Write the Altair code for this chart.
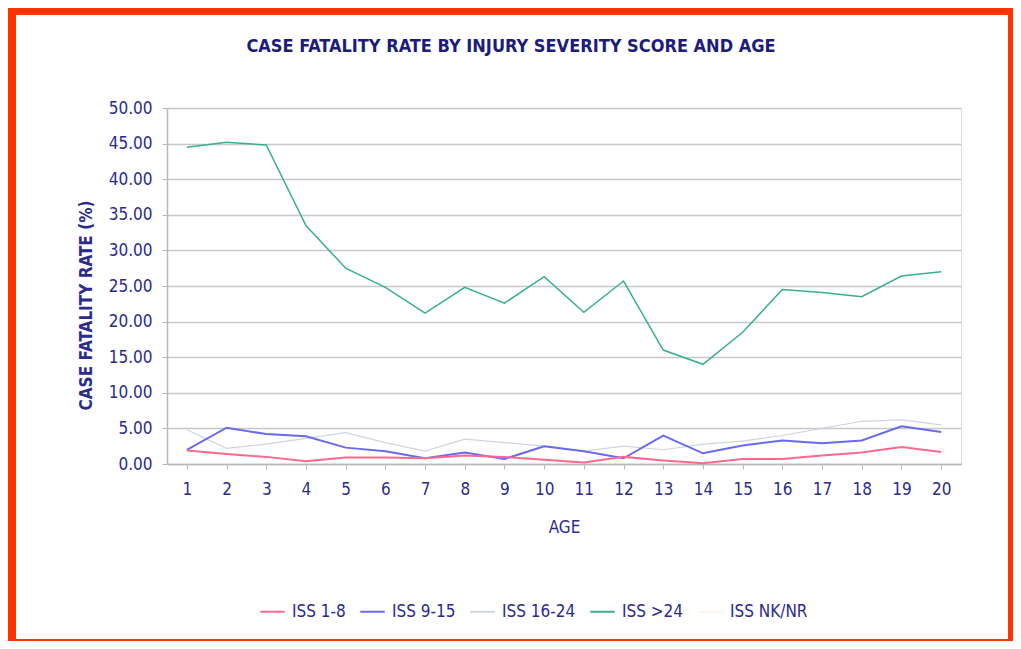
import altair as alt
import pandas as pd

ages = list(range(1, 21))
series_names = ["ISS 1-8", "ISS 9-15", "ISS 16-24", "ISS >24", "ISS NK/NR"]
series_colors = ["#ff6a8a", "#6a6af0", "#cdd6de", "#38b088", "#fff6e6"]
chart_title = "CASE FATALITY RATE BY INJURY SEVERITY SCORE AND AGE"

iss_1_8 = [1.9, 1.4, 1.0, 0.4, 0.9, 0.9, 0.8, 1.2, 1.0, 0.6, 0.2, 1.0, 0.5, 0.1, 0.7, 0.7, 1.2, 1.6, 2.4, 1.7]
iss_9_15 = [2.0, 5.1, 4.2, 3.9, 2.3, 1.8, 0.8, 1.6, 0.7, 2.5, 1.8, 0.8, 4.0, 1.5, 2.6, 3.3, 2.9, 3.3, 5.3, 4.5]
iss_16_24 = [4.8, 2.2, 2.8, 3.6, 4.4, 3.0, 1.8, 3.5, 3.0, 2.5, 1.8, 2.5, 2.0, 2.8, 3.2, 4.0, 5.0, 6.0, 6.2, 5.5]
iss_gt_24 = [44.5, 45.2, 44.8, 33.5, 27.5, 24.8, 21.2, 24.8, 22.6, 26.3, 21.3, 25.7, 16.0, 14.0, 18.5, 24.5, 24.1, 23.5, 26.4, 27.0]

rows = []
for name, vals in [("ISS 1-8", iss_1_8), ("ISS 9-15", iss_9_15),
                   ("ISS 16-24", iss_16_24), ("ISS >24", iss_gt_24)]:
    for a, v in zip(ages, vals):
        rows.append({"age": a, "rate": v, "series": name})
df = pd.DataFrame(rows)

NAVY = "#2a2a90"
FONT = "DejaVu Sans Condensed"

color = alt.Color(
    "series:N",
    scale=alt.Scale(domain=series_names, range=series_colors),
    legend=alt.Legend(
        title=None, orient="none", legendX=92, legendY=490,
        direction="horizontal", columns=5, symbolType="stroke",
        symbolSize=600, symbolStrokeWidth=2, labelFontSize=17,
        labelFont=FONT, labelColor=NAVY, labelOffset=6, columnPadding=10,
    ),
)

x = alt.X(
    "age:O", sort=ages, scale=alt.Scale(paddingOuter=0.5),
    axis=alt.Axis(
        title="AGE", labelAngle=0, labelFontSize=17, labelFont=FONT,
        labelColor=NAVY, labelPadding=12, tickSize=5, tickColor="#b8b8b8",
        domainColor="#b8b8b8", domainWidth=1.5, grid=False,
        titleFontSize=17, titleFont=FONT, titleColor=NAVY, titleFontWeight="normal",
        titleY=63, titleBaseline="middle",
    ),
)
y = alt.Y(
    "rate:Q", scale=alt.Scale(domain=[0, 50]),
    axis=alt.Axis(
        title="CASE FATALITY RATE (%)", values=list(range(0, 51, 5)), format=".2f",
        labelFontSize=17, labelFont=FONT, labelColor=NAVY, labelPadding=10,
        tickSize=5, tickColor="#b8b8b8", domainColor="#b8b8b8", domainWidth=1.5,
        gridColor="#c8c8c8", gridWidth=1.5,
        titleFontSize=17, titleFont=FONT, titleColor=NAVY, titleFontWeight="bold",
        titleAngle=270, titleX=-81, titleY=197, titleAlign="center", titleBaseline="middle",
    ),
)

base = alt.Chart(df)

def line(name, width):
    return base.transform_filter(alt.datum.series == name).mark_line(
        strokeWidth=width
    ).encode(x=x, y=y, color=color)

def frame(x1, x2, y1, y2):
    return alt.Chart(alt.Data(values=[{"k": 1}])).mark_rect(color="#ff3300").encode(
        x=alt.value(x1), x2=alt.value(x2), y=alt.value(y1), y2=alt.value(y2)
    )

title_mark = alt.Chart(alt.Data(values=[{"t": chart_title}])).mark_text(
    font=FONT, fontSize=18, fontWeight="bold", color="#1c1c7a",
    align="center", baseline="middle",
).encode(text="t:N", x=alt.value(344), y=alt.value(-61))

chart = alt.layer(
    line("ISS 16-24", 1.2),
    line("ISS >24", 1.5),
    line("ISS 9-15", 2),
    line("ISS 1-8", 2),
    title_mark,
    frame(-159, -151, -100, 533),
    frame(-159, 846, -100, -93),
    frame(841, 846, -100, 533),
    frame(-159, 846, 531, 533),
).properties(
    width=794, height=356,
    autosize=alt.AutoSizeParams(type="none"),
    padding={"left": 159, "top": 100, "right": 52, "bottom": 177},
).configure_view(stroke=None).configure(background="white")

chart.save("out.html", embed_options={"renderer": "svg", "actions": False})
